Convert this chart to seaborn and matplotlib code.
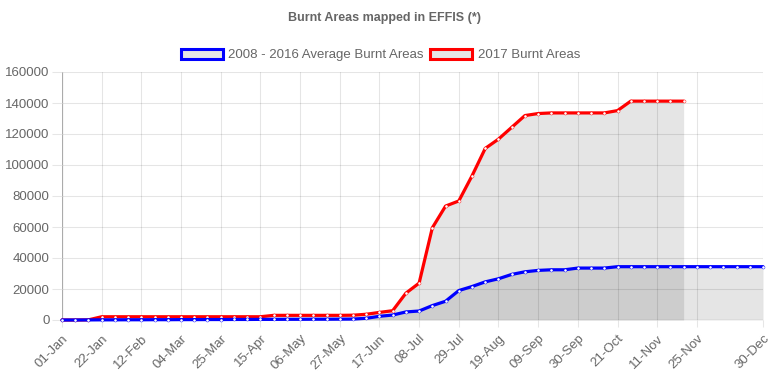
import pandas as pd
import matplotlib.pyplot as plt
import seaborn as sns
from matplotlib.patches import Patch

# weekly dates on the category axis (one extra point at 22-Nov)
dates = ["01-Jan", "08-Jan", "15-Jan", "22-Jan", "29-Jan", "05-Feb", "12-Feb", "19-Feb", "26-Feb",
         "04-Mar", "11-Mar", "18-Mar", "25-Mar", "01-Apr", "08-Apr", "15-Apr", "22-Apr", "29-Apr",
         "06-May", "13-May", "20-May", "27-May", "03-Jun", "10-Jun", "17-Jun", "24-Jun", "01-Jul",
         "08-Jul", "15-Jul", "22-Jul", "29-Jul", "05-Aug", "12-Aug", "19-Aug", "26-Aug", "02-Sep",
         "09-Sep", "16-Sep", "23-Sep", "30-Sep", "07-Oct", "14-Oct", "21-Oct", "28-Oct", "04-Nov",
         "11-Nov", "18-Nov", "22-Nov", "25-Nov", "02-Dec", "09-Dec", "16-Dec", "23-Dec", "30-Dec"]

avg_burnt = [0, 0, 50, 100, 100, 150, 150, 200, 200, 250, 250, 300, 300, 350, 350, 400, 400, 450,
             450, 500, 500, 550, 600, 1100, 2400, 3200, 5200, 5800, 9300, 12100, 19000, 21600, 24600,
             26600, 29400, 31100, 32000, 32400, 32400, 33500, 33500, 33500, 34400, 34400, 34400,
             34400, 34400, 34400, 34400, 34400, 34400, 34400, 34400, 34400]

burnt_2017 = [0, 0, 100, 2100, 2100, 2100, 2100, 2100, 2100, 2100, 2100, 2100, 2100, 2100, 2100,
              2100, 3000, 3000, 3000, 3000, 3000, 3000, 3100, 3700, 4900, 6000, 17300, 23800, 59500,
              73500, 76800, 93000, 110700, 116700, 124300, 131900, 133200, 133600, 133600, 133600,
              133600, 133600, 135100, 141200, 141200, 141200, 141200, 141200]

tick_labels = ["01-Jan", "22-Jan", "12-Feb", "04-Mar", "25-Mar", "15-Apr", "06-May", "27-May",
               "17-Jun", "08-Jul", "29-Jul", "19-Aug", "09-Sep", "30-Sep", "21-Oct", "11-Nov",
               "25-Nov", "30-Dec"]

avg_df = pd.DataFrame({"pos": range(len(avg_burnt)), "area": avg_burnt})
y17_df = pd.DataFrame({"pos": range(len(burnt_2017)), "area": burnt_2017})

sns.set_theme(style="white")
plt.rcParams['font.family'] = ['Liberation Sans', 'DejaVu Sans']
txt = "#666666"
fill_c = (0, 0, 0, 0.1)

fig = plt.figure(figsize=(7.7, 3.85), dpi=100)
ax = fig.add_axes([62 / 770, 65 / 385, 701 / 770, 248 / 385])

ax.fill_between(y17_df["pos"], y17_df["area"], 0, color=fill_c, lw=0)
ax.fill_between(avg_df["pos"], avg_df["area"], 0, color=fill_c, lw=0)

sns.lineplot(data=y17_df, x="pos", y="area", color="red", lw=2.3, marker="o", markersize=2.2,
             markerfacecolor="white", markeredgecolor="red", markeredgewidth=0.3, ax=ax, clip_on=False)
sns.lineplot(data=avg_df, x="pos", y="area", color="blue", lw=2.3, marker="o", markersize=2.2,
             markerfacecolor="white", markeredgecolor="blue", markeredgewidth=0.3, ax=ax, clip_on=False)

tick_pos = [dates.index(t) for t in tick_labels]
ax.set_xlim(0, len(dates) - 1)
ax.set_ylim(0, 160000)
ax.set_xticks(tick_pos)
ax.set_xticklabels(tick_labels, rotation=45, ha="right", rotation_mode="anchor")
ax.set_yticks(range(0, 160001, 20000))
ax.set_xlabel("")
ax.set_ylabel("")

for s in ax.spines.values():
    s.set_visible(False)
ax.grid(True, color="black", alpha=0.1, lw=0.75)
ax.set_axisbelow(True)
ax.axhline(0, color="black", alpha=0.25, lw=0.9, zorder=0.5)
ax.axvline(0, color="black", alpha=0.25, lw=0.9, zorder=0.5)

ax.tick_params(axis="y", length=7, width=0.75, color="#e6e6e6", pad=2, labelsize=9.5, labelcolor=txt, left=True)
ax.tick_params(axis="x", length=5, width=0.75, color="#e6e6e6", pad=4, labelsize=9.5, labelcolor=txt, bottom=True)

fig.text(0.5, 1 - 18 / 385, "Burnt Areas mapped in EFFIS (*)", ha="center", va="center",
         fontsize=9, fontweight="bold", color=txt)

handles = [Patch(facecolor="#e6e6e6", edgecolor="blue", lw=2.2, label="2008 - 2016 Average Burnt Areas"),
           Patch(facecolor="#e6e6e6", edgecolor="red", lw=2.2, label="2017 Burnt Areas")]
leg = fig.legend(handles=handles, loc="center", bbox_to_anchor=(0.494, 1 - 55 / 385), ncol=2,
                 frameon=False, fontsize=9.5, handlelength=3.2, handleheight=0.8, handletextpad=0.4,
                 columnspacing=0.5)
for t in leg.get_texts():
    t.set_color(txt)

fig.savefig("out.png", dpi=100)
